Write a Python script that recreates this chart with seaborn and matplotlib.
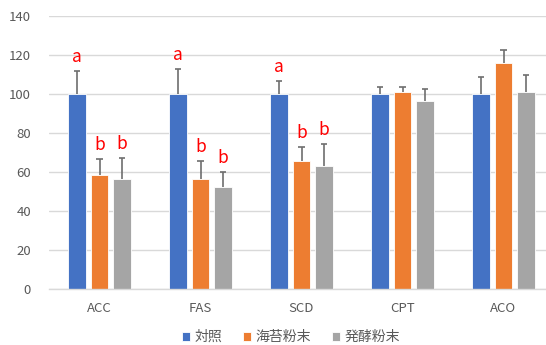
import matplotlib
matplotlib.use("Agg")
import matplotlib.pyplot as plt
import seaborn as sns
import pandas as pd
import numpy as np

genes = ["ACC", "FAS", "SCD", "CPT", "ACO"]
groups = ["対照", "海苔粉末", "発酵粉末"]
control = [100, 100, 100, 100, 100]
nori = [58.5, 56.3, 65.6, 100.8, 115.8]
ferment = [56.2, 52.1, 63.2, 96.2, 100.8]
err_control = [11.8, 12.8, 6.8, 3.8, 8.7]
err_nori = [8.0, 9.2, 7.4, 3.0, 7.0]
err_ferment = [10.8, 7.8, 11.0, 6.6, 8.8]
sig_control = ["a", "a", "a", "", ""]
sig_nori = ["b", "b", "b", "", ""]
sig_ferment = ["b", "b", "b", "", ""]
colors = ["#4472C4", "#ED7D31", "#A5A5A5"]

sns.set_theme(style="white")
plt.rcParams['font.family'] = ['Noto Sans CJK JP', 'DejaVu Sans']

df = pd.DataFrame({
    "gene": genes * 3,
    "group": [groups[0]] * 5 + [groups[1]] * 5 + [groups[2]] * 5,
    "value": control + nori + ferment,
})

fig = plt.figure(figsize=(5.46, 3.45), dpi=100)
ax = fig.add_axes([49 / 546, (345 - 289) / 345, 505 / 546, 273 / 345])

sns.barplot(data=df, x="gene", y="value", hue="group", order=genes,
            hue_order=groups, palette=colors, width=0.668, gap=0.2,
            errorbar=None, edgecolor="white", linewidth=0.6, ax=ax,
            saturation=1)

errs = [err_control, err_nori, err_ferment]
vals = [control, nori, ferment]
sigs = [sig_control, sig_nori, sig_ferment]
cap_half = 0.034
bar_containers = list(ax.containers)
for gi, cont in enumerate(bar_containers):
    for bi, patch in enumerate(cont.patches):
        xc = patch.get_x() + patch.get_width() / 2
        v = vals[gi][bi]
        e = errs[gi][bi]
        ax.plot([xc, xc], [v, v + e], color="#6E6E6E", lw=1.2, zorder=3,
                solid_capstyle="butt")
        ax.plot([xc - cap_half, xc + cap_half], [v + e, v + e],
                color="#6E6E6E", lw=1.2, zorder=3, solid_capstyle="butt")
        if sigs[gi][bi]:
            ax.text(xc, v + e + 2.5, sigs[gi][bi], color="#FF0000",
                    ha="center", va="bottom", fontsize=12.5)

ax.set_ylim(0, 140)
ax.set_yticks(range(0, 141, 20))
ax.set_xlim(-0.5, 4.5)
ax.yaxis.grid(True, color="#D9D9D9", linewidth=1)
ax.set_axisbelow(True)
for s in ["top", "right", "left"]:
    ax.spines[s].set_visible(False)
ax.spines["bottom"].set_color("#D9D9D9")
ax.spines["bottom"].set_linewidth(1)
ax.set_xlabel("")
ax.set_ylabel("")
ax.tick_params(axis="both", length=0, labelsize=9.5, colors="#595959", pad=9)
ax.tick_params(axis="y", pad=13)

ax.legend(loc="center", bbox_to_anchor=(291 / 546, 8 / 345),
          bbox_transform=fig.transFigure, ncol=3, frameon=False,
          fontsize=10, handlelength=0.6, handleheight=0.6,
          handletextpad=0.3, columnspacing=1.5, labelcolor="#595959")

fig.savefig("out.png", dpi=100)
